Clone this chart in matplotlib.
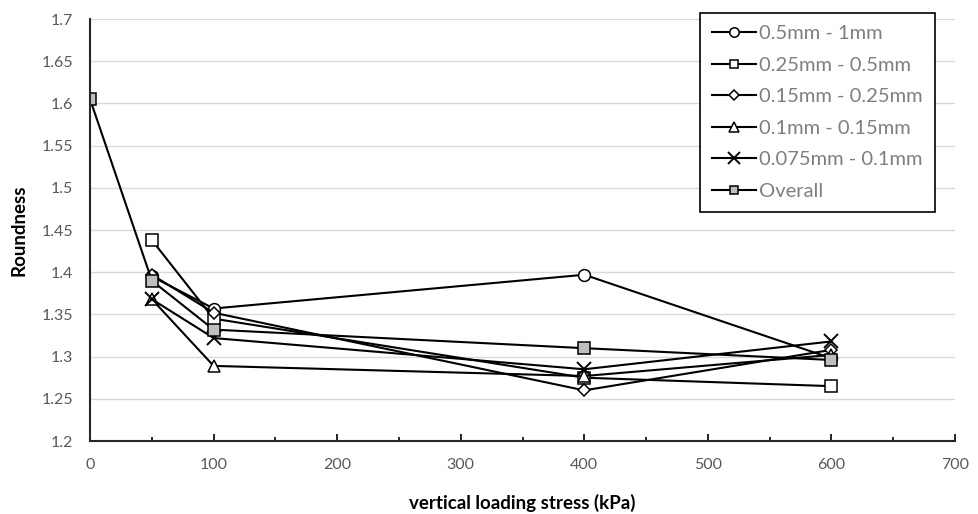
import numpy as np
import matplotlib
matplotlib.use("Agg")
import matplotlib.pyplot as plt
from matplotlib.ticker import MultipleLocator

plt.rcParams['font.family'] = ['Lato', 'DejaVu Sans']

# stress levels (kPa)
x_overall = [0, 50, 100, 400, 600]
x_size = [50, 100, 400, 600]

# roundness per particle size range
r_05_1 = [1.395, 1.357, 1.397, 1.298]
r_025_05 = [1.438, 1.345, 1.275, 1.265]
r_015_025 = [1.397, 1.352, 1.260, 1.308]
r_01_015 = [1.368, 1.289, 1.277, 1.302]
r_0075_01 = [1.368, 1.322, 1.285, 1.318]
r_overall = [1.605, 1.390, 1.332, 1.310, 1.296]

labels = ['0.5mm - 1mm', '0.25mm - 0.5mm', '0.15mm - 0.25mm',
          '0.1mm - 0.15mm', '0.075mm - 0.1mm', 'Overall']

fig = plt.figure(figsize=(9.79, 5.14), dpi=100)
ax = fig.add_axes([0.092, 0.142, 0.8835, 0.821])

lw = 1.5
mew = 1.1
ax.plot(x_size, r_05_1, color='black', lw=lw, marker='o', ms=8.5, mfc='white', mec='black', mew=mew, label=labels[0])
ax.plot(x_size, r_025_05, color='black', lw=lw, marker='s', ms=8, mfc='white', mec='black', mew=mew, label=labels[1])
ax.plot(x_size, r_015_025, color='black', lw=lw, marker='D', ms=6.5, mfc='white', mec='black', mew=mew, label=labels[2])
ax.plot(x_size, r_01_015, color='black', lw=lw, marker='^', ms=8.5, mfc='white', mec='black', mew=mew, label=labels[3])
ax.plot(x_size, r_0075_01, color='black', lw=lw, marker='x', ms=10, mec='black', mew=1.4, label=labels[4])
ax.plot(x_overall, r_overall, color='black', lw=lw, marker='s', ms=8, mfc='#bfbfbf', mec='black', mew=mew, label=labels[5])

ax.set_xlim(0, 700)
ax.set_ylim(1.2, 1.7)
ax.xaxis.set_major_locator(MultipleLocator(100))
ax.xaxis.set_minor_locator(MultipleLocator(50))
ax.set_yticks(np.arange(1.2, 1.701, 0.05))
ax.set_yticklabels(['1.2', '1.25', '1.3', '1.35', '1.4', '1.45', '1.5', '1.55', '1.6', '1.65', '1.7'])

ax.grid(axis='y', color='#d9d9d9', lw=1)
ax.set_axisbelow(True)
for s in ['top', 'right']:
    ax.spines[s].set_visible(False)
for s in ['left', 'bottom']:
    ax.spines[s].set_linewidth(1.5)
    ax.spines[s].set_color('#262626')

ax.tick_params(axis='y', length=0, pad=12, labelsize=11.5, labelcolor='#595959')
ax.tick_params(axis='x', which='major', direction='in', length=5, width=1.2, pad=12, labelsize=11.5, labelcolor='#595959')
ax.tick_params(axis='x', which='minor', direction='in', length=3, width=1.2)

ax.set_ylabel('Roundness', fontsize=13.5, fontweight='bold', labelpad=10)
ax.set_xlabel('vertical loading stress (kPa)', fontsize=13.5, fontweight='bold', labelpad=16)

leg = ax.legend(loc='upper right', bbox_to_anchor=(0.955, 0.975), bbox_transform=fig.transFigure,
                borderaxespad=0, fontsize=14.5, handlelength=2.2, handletextpad=0.15,
                labelspacing=0.72, borderpad=0.6, markerscale=0.8,
                fancybox=False, framealpha=1, edgecolor='black')
leg.get_frame().set_linewidth(1.2)
for t in leg.get_texts():
    t.set_color('#7f7f7f')

fig.savefig('out.png', dpi=100)
